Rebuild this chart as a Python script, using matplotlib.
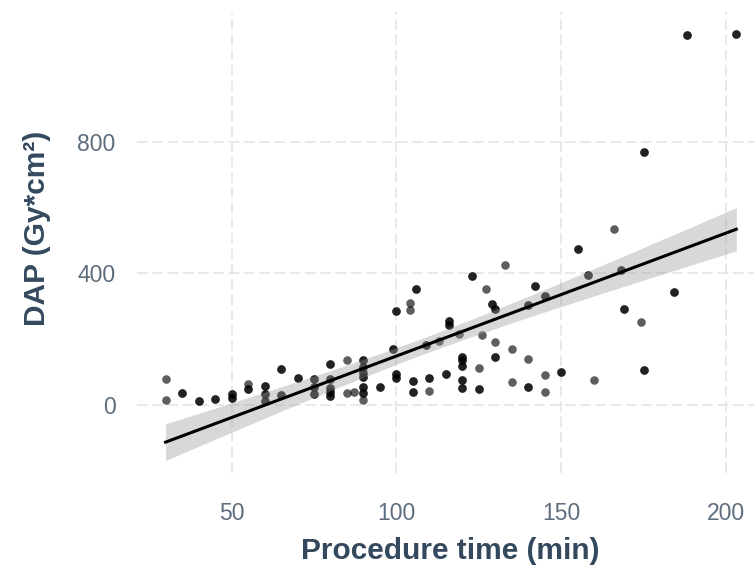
import numpy as np
import matplotlib
matplotlib.use("Agg")
import matplotlib.pyplot as plt

# procedure time (min) and DAP (Gy*cm2).
# points are drawn semi-transparent; the darker ones are two overlapping cases
time_dark = [35, 40, 45, 50, 50, 55, 60, 60, 60, 65, 65, 70, 75, 75, 75,
             80, 80, 80, 80, 80, 90, 90, 90, 90, 90, 90, 95, 100, 99, 100,
             100, 106, 105, 105, 109, 110, 115, 116, 116, 120, 120, 120, 120,
             120, 123, 125, 129, 130, 130, 140, 140, 142, 145, 150, 155, 158,
             168, 169, 175, 175, 184, 188, 203]
dap_dark = [35, 11, 18, 21, 32, 48, 57, 32, 10, 109, 30, 81, 77, 54, 32,
            124, 77, 49, 39, 26, 136, 116, 97, 83, 54, 34, 54, 286, 168, 93,
            82, 352, 71, 38, 181, 81, 94, 256, 243, 146, 136, 118, 74,
            50, 391, 47, 308, 293, 146, 55, 305, 363, 331, 100, 475, 394,
            410, 291, 106, 772, 343, 1128, 1132]
time_grey = [30, 30, 55, 85, 85, 87, 90, 104, 104, 110, 113, 119, 125, 126,
             127, 130, 133, 135, 135, 140, 145, 145, 160, 166, 174]
dap_grey = [78, 14, 62, 135, 34, 37, 15, 309, 289, 41, 195, 215, 111, 211,
            352, 190, 426, 169, 70, 139, 89, 39, 75, 537, 253]

x_ticks = [50, 100, 150, 200]
y_ticks = [0, 400, 800]

title_col = "#34495e"
tick_col = "#5d6d7e"
font = "Liberation Sans"

# one record per case
x_all = np.array(time_dark * 2 + time_grey, dtype=float)
y_all = np.array(dap_dark * 2 + dap_grey, dtype=float)

# linear fit with 95% band (like geom_smooth(method="lm"))
n = len(x_all)
slope, icpt = np.polyfit(x_all, y_all, 1)
resid = y_all - (slope * x_all + icpt)
s_err = np.sqrt(np.sum(resid ** 2) / (n - 2))
xbar = x_all.mean()
sxx = np.sum((x_all - xbar) ** 2)
xfit = np.linspace(x_all.min(), x_all.max(), 200)
yfit = slope * xfit + icpt
band = 1.98 * s_err * np.sqrt(1.0 / n + (xfit - xbar) ** 2 / sxx)

fig = plt.figure(figsize=(7.54, 5.74), dpi=100)
ax = fig.add_axes([137 / 754, 101 / 574, 628 / 754, 461 / 574])

ax.scatter(x_all, y_all, s=38, color="black", alpha=0.63, linewidths=0,
           zorder=2)
ax.fill_between(xfit, yfit - band, yfit + band, color="#999999", alpha=0.38,
                linewidth=0, zorder=3)
ax.plot(xfit, yfit, color="black", linewidth=2.2, zorder=4)

ax.set_xlim(21.35, 211.7)
ax.set_ylim(-209, 1198)
ax.set_xticks(x_ticks)
ax.set_yticks(y_ticks)
ax.set_xticklabels([str(v) for v in x_ticks], fontsize=16.5, color=tick_col,
                   family=font)
ax.set_yticklabels([str(v) for v in y_ticks], fontsize=16.5, color=tick_col,
                   family=font)
ax.tick_params(axis="x", length=0, pad=21)
ax.tick_params(axis="y", length=0, pad=15.5)

ax.grid(True, color="#e3e3e3", linewidth=1.1, linestyle=(0, (7, 3)))
ax.set_axisbelow(True)
for sp in ax.spines.values():
    sp.set_visible(False)

fig.text(450 / 754, 1 - 551 / 574, "Procedure time (min)", ha="center",
         va="center", fontsize=21.5, fontweight="bold", color=title_col,
         family=font)
fig.text(37.5 / 754, 1 - 228 / 574, "DAP (Gy*cm²)", ha="center", va="center",
         rotation=90, fontsize=21.5, fontweight="bold", color=title_col,
         family=font)

fig.savefig("out.png", dpi=100)
